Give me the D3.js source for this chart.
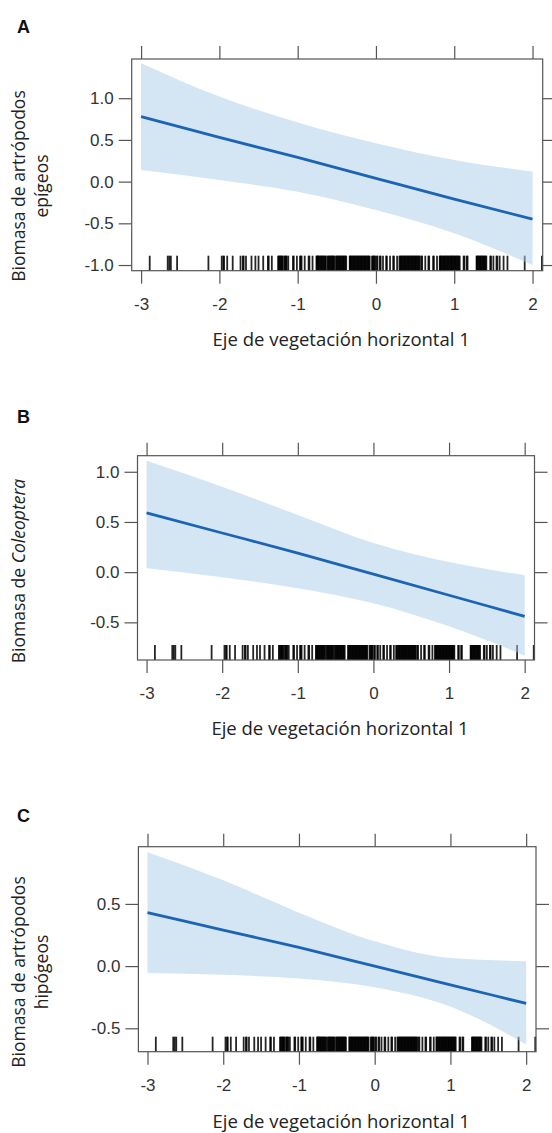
<!DOCTYPE html>
<html>
<head>
<meta charset="utf-8">
<script src="https://cdn.jsdelivr.net/npm/d3@7"></script>
<style>
  body { margin: 0; background: #fff; }
  svg { display: block; }
</style>
</head>
<body>
<svg id="chart" width="552" height="1133"></svg>
<script>
// x values where the effect is evaluated
const xs = [-3, -2, -1, 0, 1, 2];
const xTicks = [-3, -2, -1, 0, 1, 2];

// A: epigeal arthropods
const fitA = [0.78, 0.53, 0.29, 0.04, -0.21, -0.45];
const upA = [1.42, 1.02, 0.71, 0.46, 0.26, 0.12];
const loA = [0.14, 0.02, -0.12, -0.34, -0.62, -1.00];
const yTicksA = [-1, -0.5, 0, 0.5, 1];

// B: Coleoptera
const fitB = [0.59, 0.39, 0.19, -0.02, -0.23, -0.44];
const upB = [1.11, 0.85, 0.57, 0.29, 0.10, -0.03];
const loB = [0.04, -0.05, -0.16, -0.31, -0.54, -0.83];
const yTicksB = [-0.5, 0, 0.5, 1];

// C: hypogeal arthropods
const fitC = [0.43, 0.29, 0.15, 0.0, -0.15, -0.30];
const upC = [0.915, 0.69, 0.43, 0.20, 0.065, 0.04];
const loC = [-0.056, -0.07, -0.10, -0.17, -0.325, -0.63];
const yTicksC = [-0.5, 0, 0.5];

// observed values of the vegetation axis (rug)
const rugX = [
  -2.89, -2.66, -2.64, -2.62, -2.54, -2.14, -1.97, -1.95, -1.94, -1.90, -1.83,
  -1.73, -1.70, -1.69, -1.66, -1.59, -1.54, -1.50, -1.44, -1.38, -1.37, -1.33,
  -1.25, -1.24, -1.23, -1.22, -1.21, -1.20, -1.19, -1.17, -1.16, -1.15, -1.14, -1.12,
  -1.06, -1.05, -1.01, -0.97, -0.96, -0.95, -0.91, -0.86, -0.85, -0.81,
  -0.76, -0.755, -0.745, -0.74, -0.73, -0.72, -0.71, -0.70, -0.69, -0.68, -0.67, -0.66,
  -0.65, -0.64, -0.62, -0.61, -0.60, -0.59, -0.58, -0.57, -0.56, -0.55, -0.54,
  -0.53, -0.51, -0.50, -0.49, -0.48, -0.47, -0.46, -0.45, -0.44, -0.43, -0.42,
  -0.41, -0.40, -0.39, -0.38,
  -0.335, -0.33, -0.32, -0.31, -0.30, -0.29, -0.28, -0.27, -0.26, -0.25, -0.24,
  -0.23, -0.22, -0.21, -0.20, -0.19, -0.18, -0.17, -0.16, -0.15, -0.14, -0.13,
  -0.12, -0.11, -0.10, -0.09, -0.08,
  -0.05, -0.04, -0.03, -0.02, -0.01, 0.01, 0.02,
  0.05, 0.06, 0.09, 0.13, 0.14, 0.18, 0.22, 0.23, 0.27,
  0.30, 0.31, 0.32, 0.33, 0.34, 0.35, 0.36, 0.37, 0.38, 0.39, 0.40, 0.41,
  0.42, 0.43, 0.44, 0.45, 0.46, 0.47, 0.48, 0.49, 0.50, 0.51, 0.52, 0.53,
  0.54, 0.55, 0.56,
  0.58, 0.59, 0.63, 0.67, 0.68, 0.73, 0.74, 0.78,
  0.815, 0.82, 0.83, 0.84, 0.85, 0.86, 0.87, 0.88, 0.89, 0.90, 0.91, 0.92,
  0.93, 0.94, 0.95, 0.96, 0.97, 0.98, 0.99, 1.00, 1.01, 1.02, 1.03, 1.04,
  1.05, 1.06, 1.07,
  1.12, 1.13, 1.16, 1.17,
  1.285, 1.29, 1.30, 1.31, 1.32, 1.33, 1.34, 1.35, 1.36, 1.37, 1.38, 1.39,
  1.40, 1.41,
  1.46, 1.47, 1.50, 1.54, 1.55, 1.58, 1.63, 1.68,
  1.90, 2.12
];

const xTitle = "Eje de vegetación horizontal 1";

const svg = d3.select("#chart");
const tickFont = "'Liberation Sans', Arial, sans-serif";
const titleFont = "'Open Sans', 'Noto Sans', sans-serif";
const boxColor = "#555";

const panels = [
  { letter: "A", letterY: 33, left: 131.7, right: 542.7, top: 59, bottom: 270.7,
    yDomain: [-1.068, 1.47], fit: fitA, up: upA, lo: loA, yTicks: yTicksA,
    yTitle: ["Biomasa de artrópodos", "epígeos"], yTitleY: 186, xTitleY: 346 },
  { letter: "B", letterY: 423, left: 137.5, right: 534.5, top: 455.7, bottom: 660,
    yDomain: [-0.875, 1.16], fit: fitB, up: upB, lo: loB, yTicks: yTicksB,
    yTitle: null, yTitleY: 571, xTitleY: 735 },
  { letter: "C", letterY: 822, left: 138.4, right: 536, top: 846.7, bottom: 1051.7,
    yDomain: [-0.688, 0.96], fit: fitC, up: upC, lo: loC, yTicks: yTicksC,
    yTitle: ["Biomasa de artrópodos", "hipógeos"], yTitleY: 972, xTitleY: 1128 }
];

panels.forEach(p => {
  const x = d3.scaleLinear().domain([-3.12, 2.13]).range([p.left, p.right]);
  const y = d3.scaleLinear().domain(p.yDomain).range([p.bottom, p.top]);
  const g = svg.append("g");

  // panel letter
  g.append("text")
    .attr("x", 17).attr("y", p.letterY)
    .attr("font-family", tickFont).attr("font-weight", "bold")
    .attr("font-size", 18).attr("fill", "#111")
    .text(p.letter);

  // rug
  g.append("g").selectAll("line")
    .data(rugX)
    .join("line")
    .attr("x1", d => x(d)).attr("x2", d => x(d))
    .attr("y1", p.bottom).attr("y2", p.bottom - 15)
    .attr("stroke", "#000").attr("stroke-width", 1.8).attr("stroke-opacity", 0.85);

  // confidence band
  const rows = xs.map((v, i) => ({ x: v, fit: p.fit[i], up: p.up[i], lo: p.lo[i] }));
  const area = d3.area()
    .x(d => x(d.x)).y0(d => y(d.lo)).y1(d => y(d.up))
    .curve(d3.curveMonotoneX);
  g.append("path").datum(rows)
    .attr("d", area)
    .attr("fill", "#a9cbea").attr("fill-opacity", 0.5);

  // fitted line
  const line = d3.line().x(d => x(d.x)).y(d => y(d.fit)).curve(d3.curveMonotoneX);
  g.append("path").datum(rows)
    .attr("d", line)
    .attr("fill", "none").attr("stroke", "#1c64b4").attr("stroke-width", 2.8);

  // axes
  const styleAxis = sel => {
    sel.select(".domain").remove();
    sel.selectAll(".tick line").attr("stroke", boxColor).attr("stroke-width", 1.2);
    sel.selectAll(".tick text").attr("fill", "#333")
      .attr("font-family", tickFont).attr("font-size", 17);
  };
  g.append("g").attr("transform", `translate(0,${p.bottom})`)
    .call(d3.axisBottom(x).tickValues(xTicks).tickFormat(d => String(d))
      .tickSize(13).tickPadding(14))
    .call(styleAxis);
  g.append("g").attr("transform", `translate(0,${p.top})`)
    .call(d3.axisTop(x).tickValues(xTicks).tickFormat("").tickSize(13))
    .call(styleAxis);
  g.append("g").attr("transform", `translate(${p.left},0)`)
    .call(d3.axisLeft(y).tickValues(p.yTicks).tickFormat(d => d.toFixed(1))
      .tickSize(13).tickPadding(5))
    .call(styleAxis);
  g.append("g").attr("transform", `translate(${p.right},0)`)
    .call(d3.axisRight(y).tickValues(p.yTicks).tickFormat("").tickSize(13))
    .call(styleAxis);

  // box
  g.append("rect")
    .attr("x", p.left).attr("y", p.top)
    .attr("width", p.right - p.left).attr("height", p.bottom - p.top)
    .attr("fill", "none").attr("stroke", boxColor).attr("stroke-width", 1.2);

  // x title
  g.append("text")
    .attr("x", (p.left + p.right) / 2 + 4).attr("y", p.xTitleY)
    .attr("text-anchor", "middle")
    .attr("font-family", titleFont).attr("font-size", 18.5).attr("fill", "#222")
    .text(xTitle);

  // y title
  const yt = g.append("text")
    .attr("transform", `translate(25,${p.yTitleY}) rotate(-90)`)
    .attr("text-anchor", "middle")
    .attr("font-family", titleFont).attr("font-size", 17.5).attr("fill", "#222");
  if (p.yTitle) {
    yt.append("tspan").attr("x", 0).attr("y", 0).text(p.yTitle[0]);
    yt.append("tspan").attr("x", 0).attr("y", 23).text(p.yTitle[1]);
  } else {
    yt.append("tspan").text("Biomasa de ");
    yt.append("tspan").attr("font-style", "italic").text("Coleoptera");
  }
});
</script>
</body>
</html>
